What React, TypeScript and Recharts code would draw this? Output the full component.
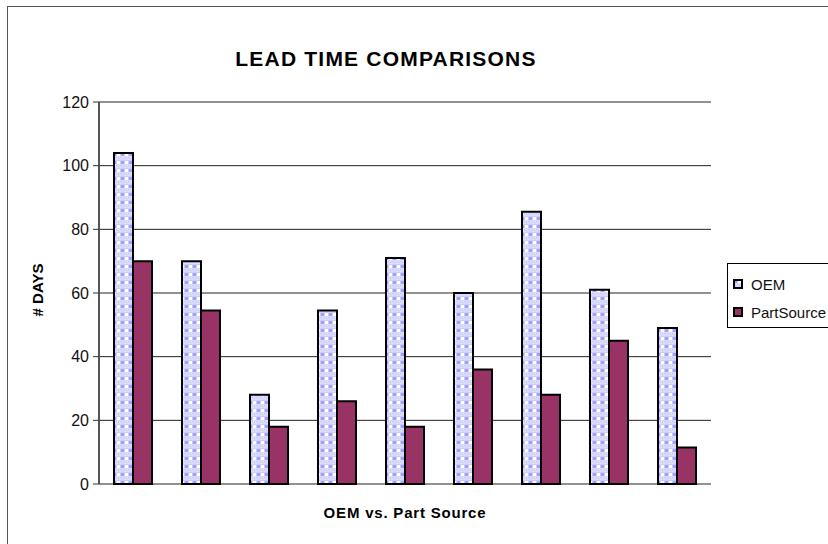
import React from "react"
import { Bar, BarChart, CartesianGrid, XAxis, YAxis } from "recharts"

const categories = ["1", "2", "3", "4", "5", "6", "7", "8", "9"]
const oemDays = [104, 70, 28, 54.5, 71, 60, 85.5, 61, 49]
const partSourceDays = [70, 54.5, 18, 26, 18, 36, 28, 45, 11.5]
const yTicks = [0, 20, 40, 60, 80, 100, 120]

const data = categories.map((name, i) => ({
  name,
  oem: oemDays[i],
  partSource: partSourceDays[i],
}))

const font = "'Liberation Sans', Arial, sans-serif"

function LegendBox() {
  const items = [
    { label: "OEM", fill: "url(#oemPattern)" },
    { label: "PartSource", fill: "#993366" },
  ]
  return (
    <div
      style={{
        position: "absolute",
        left: 727,
        top: 263,
        width: 120,
        height: 65,
        border: "1px solid #000",
        background: "#fff",
        fontFamily: font,
        fontSize: 15,
        color: "#111",
        boxSizing: "border-box",
        paddingTop: 6,
      }}
    >
      {items.map((it) => (
        <div key={it.label} style={{ display: "flex", alignItems: "center", height: 28 }}>
          <svg width={10} height={10} style={{ marginLeft: 5, marginRight: 8 }}>
            <rect x={1} y={1} width={8} height={8} fill={it.fill} stroke="#000" strokeWidth={2} />
          </svg>
          <span>{it.label}</span>
        </div>
      ))}
    </div>
  )
}

export default function App() {
  return (
    <div style={{ position: "absolute", left: 0, top: 0, width: 828, height: 544, overflow: "hidden", background: "#fff" }}>
      <div
        style={{
          position: "absolute",
          left: 7,
          top: 6,
          width: 900,
          height: 600,
          borderLeft: "1px solid #555",
          borderTop: "1px solid #555",
        }}
      />
      <div
        style={{
          position: "absolute",
          left: 0,
          width: 772,
          top: 47,
          textAlign: "center",
          fontFamily: font,
          fontWeight: "bold",
          fontSize: 21,
          letterSpacing: 1.2,
          color: "#000",
        }}
      >
        LEAD TIME COMPARISONS
      </div>
      <div
        style={{
          position: "absolute",
          left: 99,
          width: 612,
          top: 504,
          textAlign: "center",
          fontFamily: font,
          fontWeight: "bold",
          fontSize: 15,
          letterSpacing: 0.8,
          color: "#000",
        }}
      >
        OEM vs. Part Source
      </div>
      <div
        style={{
          position: "absolute",
          left: 37,
          top: 290,
          transform: "translate(-50%, -50%) rotate(-90deg)",
          fontFamily: font,
          fontWeight: "bold",
          fontSize: 15,
          color: "#000",
          whiteSpace: "nowrap",
        }}
      >
        # DAYS
      </div>
      <div style={{ position: "absolute", left: 0, top: 0 }}>
        <BarChart
          width={828}
          height={544}
          data={data}
          margin={{ top: 102, right: 117, bottom: 60, left: 39 }}
          barCategoryGap={15}
          barGap={0}
        >
          <defs>
            <pattern id="oemPattern" width={8} height={8} patternUnits="userSpaceOnUse">
              <rect width={8} height={8} fill="#dcdcff" />
              <rect x={0} y={0} width={8} height={4} fill="#cdcdfd" />
              <rect x={1} y={1} width={3} height={3} fill="#a0a0fa" />
              <rect x={5} y={1} width={3} height={3} fill="#ffffff" />
              <rect x={0} y={5} width={1} height={1} fill="#c4c4fb" />
              <rect x={2} y={6} width={1} height={1} fill="#c4c4fb" />
              <rect x={4} y={5} width={1} height={1} fill="#c4c4fb" />
              <rect x={6} y={6} width={1} height={1} fill="#c4c4fb" />
            </pattern>
          </defs>
          <CartesianGrid vertical={false} stroke="#222" strokeWidth={1} />
          <XAxis
            dataKey="name"
            tick={false}
            tickLine={false}
            axisLine={{ stroke: "#888", strokeWidth: 2 }}
            height={0}
          />
          <XAxis
            xAxisId="top"
            orientation="top"
            dataKey="name"
            tick={false}
            tickLine={false}
            axisLine={{ stroke: "#999", strokeWidth: 2 }}
            height={0}
          />
          <YAxis
            domain={[0, 120]}
            ticks={yTicks}
            interval={0}
            width={60}
            tickSize={6}
            tickMargin={4}
            tickLine={{ stroke: "#333" }}
            axisLine={{ stroke: "#555", strokeWidth: 2 }}
            tick={{ fill: "#111", fontSize: 16, fontFamily: font }}
          />
          <YAxis
            yAxisId="right"
            orientation="right"
            domain={[0, 120]}
            tick={false}
            tickLine={false}
            width={0}
            axisLine={{ stroke: "#999", strokeWidth: 2 }}
          />
          <Bar
            dataKey="oem"
            name="OEM"
            fill="url(#oemPattern)"
            stroke="#000"
            strokeWidth={2}
            isAnimationActive={false}
          />
          <Bar
            dataKey="partSource"
            name="PartSource"
            fill="#993366"
            stroke="#000"
            strokeWidth={2}
            isAnimationActive={false}
          />
        </BarChart>
      </div>
      <LegendBox />
    </div>
  )
}
